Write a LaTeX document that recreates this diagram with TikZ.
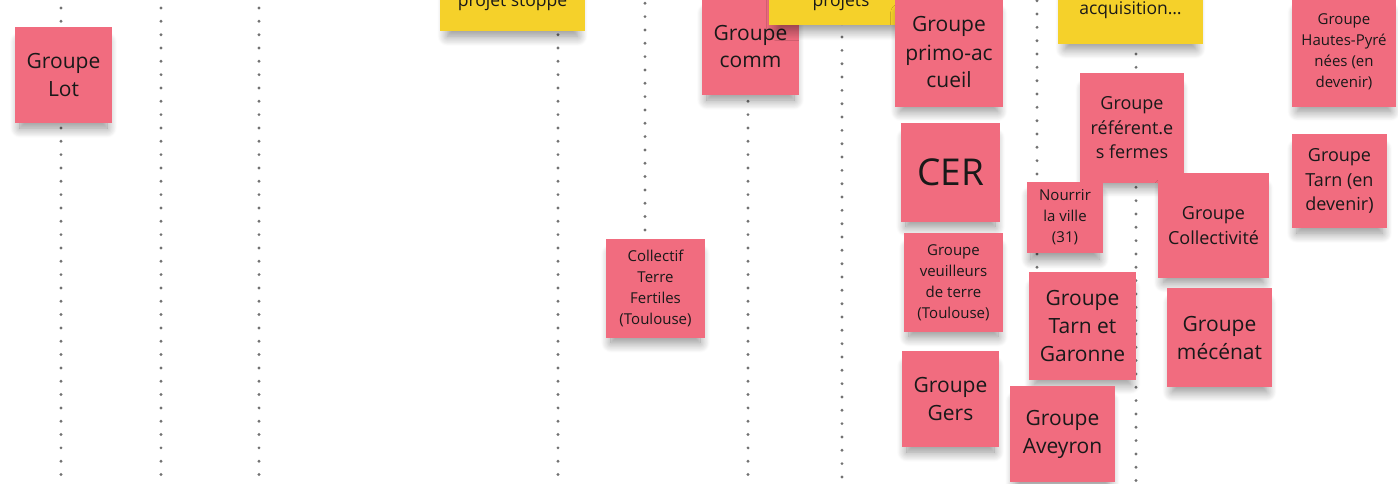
\documentclass[tikz,border=0pt]{standalone}
\usepackage{fontspec}
\setmainfont{Open Sans}
\usetikzlibrary{shadows.blur}
\definecolor{notepink}{HTML}{F16C7F}
\definecolor{noteyellow}{HTML}{F5D12A}
\definecolor{dotgrey}{HTML}{727272}
\tikzstyle{note} = [rectangle, fill=notepink, text=black!90, align=center, inner sep=0pt, blur shadow={shadow xshift=0pt, shadow yshift=-11pt, shadow scale=0.9, shadow blur radius=11pt, shadow blur steps=16, shadow opacity=45}]
\tikzstyle{memo} = [note, fill=noteyellow, font=\fontsize{17.5}{24}\selectfont, text height=70pt, anchor=base]
\tikzstyle{big} = [font=\fontsize{21}{28}\selectfont]
\tikzstyle{mid} = [font=\fontsize{18}{24.5}\selectfont]
\tikzstyle{small} = [font=\fontsize{15}{21}\selectfont]
\tikzstyle{divider} = [dotgrey, line width=3.2pt, line cap=round, dash pattern=on 0pt off 13.33pt]

\begin{document}
\begin{tikzpicture}[x=1pt, y=-1pt]

\useasboundingbox (0,0) rectangle (1398,484);
\clip (0,0) rectangle (1398,484);

% board columns
\foreach \x/\ya/\yb in {61/8/475, 161/8/475, 259/8/475, 558/8/475, 645/3.3/231, 748/8/475, 842/10.4/477, 1037/0.7/268, 1136/0.7/482}
  \draw [divider] (\x,\ya) -- (\x,\yb);

% stickies
\node (lot) [note, big, minimum width=97pt, minimum height=96pt] at (63.5,75) {Groupe\\Lot};
\node (stoppe) [memo, minimum width=145pt, text depth=24pt] at (512.5,7) {projet stoppé};
\node (comm) [note, big, minimum width=97pt, minimum height=97pt] at (750.5,46.5) {Groupe\\comm};
\node (projets) [memo, minimum width=144pt, text depth=18pt] at (841,7) {projets};
\node (primo) [note, big, minimum width=108pt, minimum height=109pt] at (949,52.5) {Groupe\\primo-ac\\cueil};
\node (cer) [note, font=\fontsize{37}{44}\selectfont, minimum width=99pt, minimum height=99pt] at (950.5,172.5) {CER};
\node (veilleurs) [note, small, minimum width=99pt, minimum height=99pt] at (953.5,282.5) {Groupe\\veuilleurs\\de terre\\(Toulouse)};
\node (gers) [note, big, minimum width=97pt, minimum height=96pt] at (950.5,399) {Groupe\\Gers};
\node (collectif) [note, small, minimum width=99pt, minimum height=99pt] at (655.5,288.5) {Collectif\\Terre\\Fertiles\\(Toulouse)};
\node (acquisition) [memo, minimum width=145pt, text depth=29pt] at (1130.5,15) {acquisition…};
\node (referent) [note, mid, minimum width=104pt, minimum height=110pt] at (1132,128) {Groupe\\référent.e\\s fermes};
\node (nourrir) [note, small, minimum width=76pt, minimum height=71pt] at (1065,217.5) {Nourrir\\la ville\\(31)};
\node (collectivite) [note, mid, minimum width=111pt, minimum height=105pt] at (1213.5,225.5) {Groupe\\Collectivité};
\node (tarngaronne) [note, big, minimum width=107pt, minimum height=108pt] at (1082.5,326) {Groupe\\Tarn et\\Garonne};
\node (aveyron) [note, big, minimum width=105pt, minimum height=96pt] at (1062.5,434) {Groupe\\Aveyron};
\node (mecenat) [note, big, minimum width=105pt, minimum height=99pt] at (1219.5,337.5) {Groupe\\mécénat};
\node (hautespyr) [note, small, minimum width=104pt, minimum height=110pt] at (1344,52) {Groupe\\Hautes-Pyré\\nées (en\\devenir)};
\node (tarn) [note, mid, minimum width=95pt, minimum height=94pt] at (1339.5,181) {Groupe\\Tarn (en\\devenir)};

\end{tikzpicture}
\end{document}
